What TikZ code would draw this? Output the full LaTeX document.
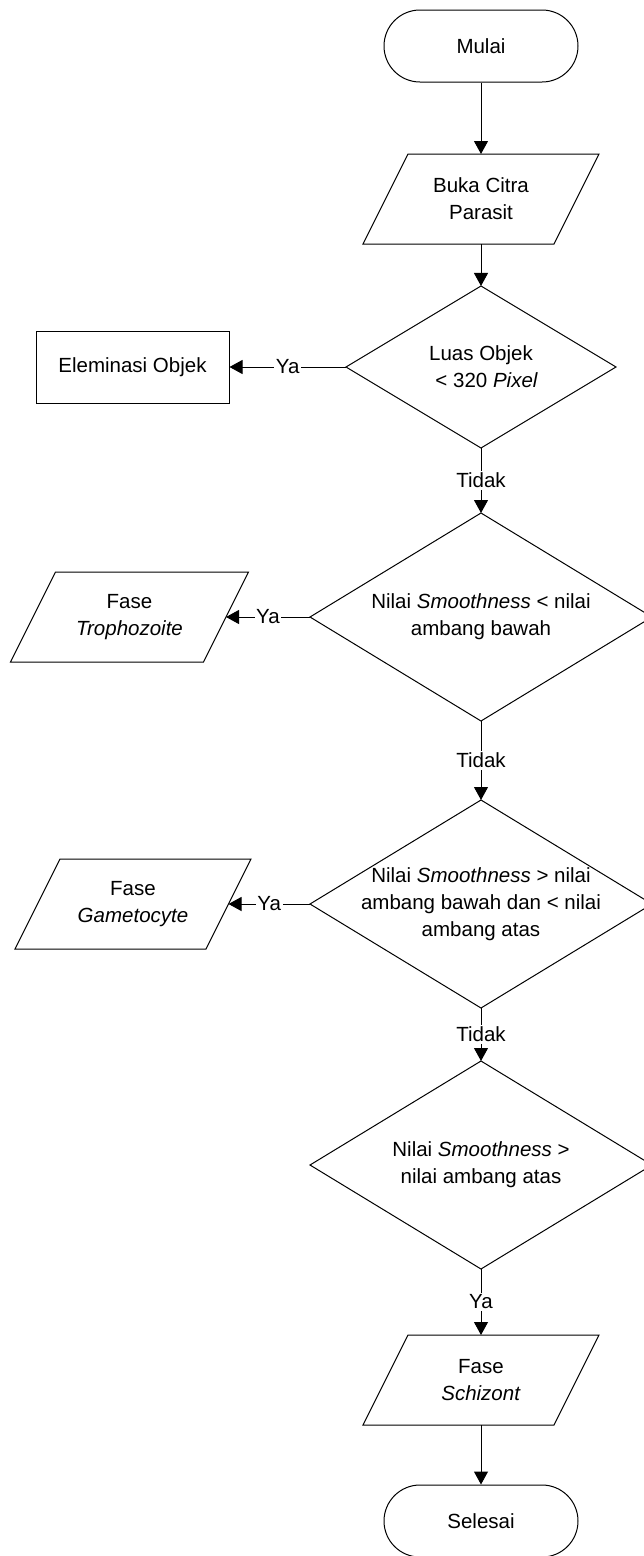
\documentclass[tikz,border=0pt]{standalone}
\usepackage{fontspec}
\setmainfont{Liberation Sans}
\usetikzlibrary{shapes.geometric,arrows.meta}
\begin{document}
\begin{tikzpicture}[x=1pt,y=1pt,line width=1pt,
  every node/.style={font=\fontsize{20.5}{27}\selectfont,align=center,inner sep=0pt},
  term/.style={draw,rounded corners=36pt,minimum width=194pt,minimum height=72pt},
  proc/.style={draw,minimum width=193pt,minimum height=72pt},
  io/.style={minimum width=191pt,minimum height=90pt,outer sep=0pt},
  dec/.style={draw,diamond,minimum width=342pt,minimum height=208pt,outer sep=0pt},
  flow/.style={-{Triangle[length=13pt,width=14pt]}},
  tag/.style={fill=white,inner sep=1.5pt}]
\useasboundingbox (0,0) rectangle (643,-1556);

% main column
\node[term] (start) at (481,-46) {Mulai};
\node[io] (buka) at (481,-199) {Buka Citra\\Parasit};
\node[dec,minimum width=270pt,minimum height=162pt,
  label={center:Luas Objek\\\ \ < 320 \textit{Pixel}}] (d1) at (481,-367) {};
\node[dec,label={center:Nilai \textit{Smoothness} < nilai\\ambang bawah}] (d2) at (481,-617) {};
\node[dec,label={center:Nilai \textit{Smoothness} > nilai\\ambang bawah dan < nilai\\ambang atas}] (d3) at (481,-904) {};
\node[dec,label={center:Nilai \textit{Smoothness} >\\nilai ambang atas}] (d4) at (481,-1165) {};
\node[io] (schiz) at (481,-1380) {Fase\\\textit{Schizont}};
\node[term] (end) at (481,-1521) {Selesai};

% side branches
\node[proc] (elim) at (132.5,-367) {Eleminasi Objek};
\node[io,minimum width=193pt] (troph) at (129.5,-617) {Fase\\\textit{Trophozoite}};
\node[io] (game) at (133,-904) {Fase\\\textit{Gametocyte}};

% parallelogram outlines for the input/output boxes
\foreach \n in {buka,troph,game,schiz}
  \draw ([xshift=22.5pt]\n.north west) -- ([xshift=22.5pt]\n.north east)
     -- ([xshift=-22.5pt]\n.south east) -- ([xshift=-22.5pt]\n.south west) -- cycle;

% connectors
\draw[flow] (start) -- (buka);
\draw[flow] (buka) -- (d1);
\draw[flow] (d1.west) -- node[tag]{Ya} (elim.east);
\draw[flow] (d1) -- node[tag]{Tidak} (d2);
\draw[flow] (d2.west) -- node[tag]{Ya} (troph.east);
\draw[flow] (d2) -- node[tag]{Tidak} (d3);
\draw[flow] (d3.west) -- node[tag]{Ya} (game.east);
\draw[flow] (d3) -- node[tag]{Tidak} (d4);
\draw[flow] (d4) -- node[tag]{Ya} (schiz);
\draw[flow] (schiz) -- (end);
\end{tikzpicture}
\end{document}
